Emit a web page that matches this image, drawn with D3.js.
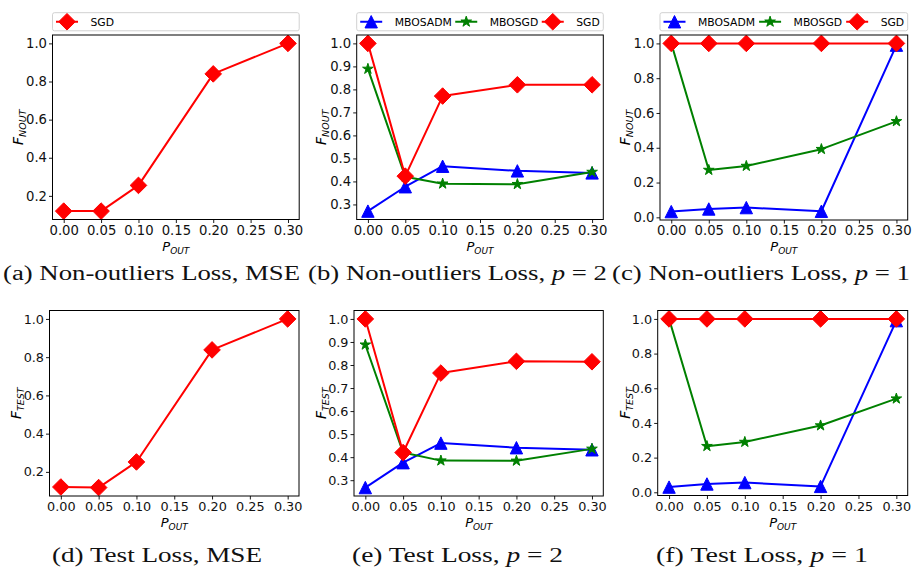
<!DOCTYPE html>
<html><head><meta charset="utf-8">
<script src="https://cdn.jsdelivr.net/npm/d3@7"></script>
<style>body{margin:0;background:#fff}</style></head><body>
<svg id="c" width="913" height="572" xmlns="http://www.w3.org/2000/svg"></svg>
<script>
// ---------- data ----------
const xValues = [0, 0.05, 0.10, 0.20, 0.30];
const xTickValues = [0, 0.05, 0.10, 0.15, 0.20, 0.25, 0.30];
const seriesNames = ["MBOSADM", "MBOSGD", "SGD"];

const noutMseSGD    = [0.120, 0.120, 0.255, 0.840, 1.000];
const noutP2MBOSADM = [0.271, 0.377, 0.466, 0.446, 0.437];
const noutP2MBOSGD  = [0.889, 0.420, 0.390, 0.388, 0.441];
const noutP2SGD     = [1.000, 0.423, 0.771, 0.820, 0.820];
const noutP1MBOSADM = [0.033, 0.048, 0.056, 0.035, 0.990];
const noutP1MBOSGD  = [1.000, 0.272, 0.295, 0.392, 0.552];
const noutP1SGD     = [1.000, 1.000, 1.000, 1.000, 1.000];

const testMseSGD    = [0.121, 0.118, 0.252, 0.838, 1.000];
const testP2MBOSADM = [0.268, 0.376, 0.461, 0.441, 0.432];
const testP2MBOSGD  = [0.888, 0.420, 0.385, 0.384, 0.436];
const testP2SGD     = [1.000, 0.420, 0.765, 0.816, 0.814];
const testP1MBOSADM = [0.030, 0.048, 0.056, 0.034, 0.990];
const testP1MBOSGD  = [1.000, 0.266, 0.290, 0.385, 0.540];
const testP1SGD     = [1.000, 1.000, 1.000, 1.000, 1.000];

const yTicksMse = [0.2, 0.4, 0.6, 0.8, 1.0];
const yTicksP2  = [0.3, 0.4, 0.5, 0.6, 0.7, 0.8, 0.9, 1.0];
const yTicksP1  = [0.0, 0.2, 0.4, 0.6, 0.8, 1.0];

const captionA = ["(a) Non-outliers Loss, MSE", "", ""];
const captionB = ["(b) Non-outliers Loss, ", "p", " = 2"];
const captionC = ["(c) Non-outliers Loss, ", "p", " = 1"];
const captionD = ["(d) Test Loss, MSE", "", ""];
const captionE = ["(e) Test Loss, ", "p", " = 2"];
const captionF = ["(f) Test Loss, ", "p", " = 1"];

// ---------- styles ----------
const style = {
  MBOSADM: {color: "#0000ff", marker: "tri"},
  MBOSGD:  {color: "#008000", marker: "star"},
  SGD:     {color: "#ff0000", marker: "diamond"}
};

function markerPath(kind) {
  if (kind === "diamond") { const h = 8.3; return `M0,${-h}L${h},0L0,${h}L${-h},0Z`; }
  if (kind === "tri") { const h = 6.2; return `M0,${-h}L${h},${h}L${-h},${h}Z`; }
  const R = 5.6, r = R * 0.381966; let p = "";
  for (let i = 0; i < 10; i++) {
    const rad = i % 2 === 0 ? R : r;
    const a = -Math.PI / 2 + i * Math.PI / 5;
    p += (i ? "L" : "M") + (rad * Math.cos(a)).toFixed(2) + "," + (rad * Math.sin(a)).toFixed(2);
  }
  return p + "Z";
}

const panels = [
  {box: [52.5, 35, 299.2, 219.5], series: [["SGD", noutMseSGD]], yTicks: yTicksMse, yLabel: "NOUT", legend: true, cap: captionA, capBox: [3, 300], capY: 280, xLabY: 251, yLabOff: 30, tf: 13.2},
  {box: [356.7, 35, 603.3, 219.5], series: [["MBOSADM", noutP2MBOSADM], ["MBOSGD", noutP2MBOSGD], ["SGD", noutP2SGD]], yTicks: yTicksP2, yLabel: "NOUT", legend: true, cap: captionB, capBox: [308, 607], capY: 280, xLabY: 251, yLabOff: 31, tf: 13.2},
  {box: [660, 35, 907.7, 220], series: [["MBOSADM", noutP1MBOSADM], ["MBOSGD", noutP1MBOSGD], ["SGD", noutP1SGD]], yTicks: yTicksP1, yLabel: "NOUT", legend: true, cap: captionC, capBox: [612, 910], capY: 280, xLabY: 251, yLabOff: 30, tf: 13.2},
  {box: [49.5, 310.5, 299, 496], series: [["SGD", testMseSGD]], yTicks: yTicksMse, yLabel: "TEST", legend: false, cap: captionD, capBox: [52, 262], capY: 562, xLabY: 527, yLabOff: 29, tf: 12.8},
  {box: [354, 310.5, 603.3, 496], series: [["MBOSADM", testP2MBOSADM], ["MBOSGD", testP2MBOSGD], ["SGD", testP2SGD]], yTicks: yTicksP2, yLabel: "TEST", legend: false, cap: captionE, capBox: [352, 563], capY: 562, xLabY: 527, yLabOff: 28, tf: 12.8},
  {box: [657.7, 310.5, 907.7, 495.5], series: [["MBOSADM", testP1MBOSADM], ["MBOSGD", testP1MBOSGD], ["SGD", testP1SGD]], yTicks: yTicksP1, yLabel: "TEST", legend: false, cap: captionF, capBox: [656, 868], capY: 562, xLabY: 527, yLabOff: 28, tf: 12.8}
];

const svg = d3.select("#c");
const FONT = "'DejaVu Sans', sans-serif";

panels.forEach(p => {
  const [x0, y0, x1, y1] = p.box;
  const xs = d3.scaleLinear().domain([-0.015, 0.315]).range([x0, x1]);
  const all = p.series.flatMap(s => s[1]);
  const lo = d3.min(all), hi = d3.max(all), m = (hi - lo) * 0.05;
  const ys = d3.scaleLinear().domain([lo - m, hi + m]).range([y1, y0]);
  const g = svg.append("g");

  const xa = g.append("g").attr("transform", `translate(0,${y1})`)
    .call(d3.axisBottom(xs).tickValues(xTickValues).tickFormat(d3.format(".2f")).tickSize(3.5).tickPadding(2.5));
  const ya = g.append("g").attr("transform", `translate(${x0},0)`)
    .call(d3.axisLeft(ys).tickValues(p.yTicks).tickFormat(d3.format(".1f")).tickSize(3.5).tickPadding(2));
  [xa, ya].forEach(a => {
    a.attr("font-family", FONT).attr("font-size", p.tf);
    a.select(".domain").remove();
    a.selectAll("line").attr("stroke", "#000").attr("stroke-width", 0.9);
    a.selectAll("text").style("font-family", FONT).style("font-size", p.tf + "px").attr("fill", "#111");
  });

  p.series.forEach(([name, vals]) => {
    const st = style[name];
    const pts = vals.map((v, i) => [xs(xValues[i]), ys(v)]);
    g.append("path").attr("d", d3.line()(pts)).attr("fill", "none")
      .attr("stroke", st.color).attr("stroke-width", 2).attr("stroke-linejoin", "round");
    g.selectAll(null).data(pts).enter().append("path")
      .attr("d", markerPath(st.marker)).attr("transform", d => `translate(${d[0]},${d[1]})`)
      .attr("fill", st.color).attr("stroke", st.color).attr("stroke-width", 1).attr("stroke-linejoin", "miter");
  });

  g.append("rect").attr("x", x0).attr("y", y0).attr("width", x1 - x0).attr("height", y1 - y0)
    .attr("fill", "none").attr("stroke", "#000").attr("stroke-width", 1);

  const xl = g.append("text").attr("x", (x0 + x1) / 2).attr("y", p.xLabY).attr("text-anchor", "middle")
    .style("font-family", FONT).attr("font-style", "italic");
  xl.append("tspan").attr("font-size", 13).text("P");
  xl.append("tspan").attr("font-size", 9).attr("dy", 3).text("OUT");

  const cy = (y0 + y1) / 2, lx = x0 - p.yLabOff;
  const yl = g.append("text").attr("transform", `translate(${lx},${cy}) rotate(-90)`).attr("text-anchor", "middle")
    .style("font-family", FONT).attr("font-style", "italic");
  yl.append("tspan").attr("font-size", 14).text("F");
  yl.append("tspan").attr("font-size", 9.5).attr("dy", 3).text(p.yLabel);

  if (p.legend) {
    const ly0 = 12.7, ly1 = 30.8, lmid = (ly0 + ly1) / 2;
    g.append("rect").attr("x", x0).attr("y", ly0).attr("width", x1 - x0).attr("height", ly1 - ly0)
      .attr("rx", 2).attr("fill", "#fff").attr("stroke", "#cccccc").attr("stroke-width", 0.9);
    const names = p.series.map(s => s[0]);
    const handleW = 22, gapHT = 12.5, pad = 3.5;
    const items = names.map(n => {
      const t = g.append("text").style("font-family", FONT).attr("font-size", 10.8).attr("fill", "#000")
        .attr("y", lmid + 3.9).text(n);
      return {n, t, w: t.node().getComputedTextLength()};
    });
    const total = d3.sum(items, d => handleW + gapHT + d.w);
    const gap = items.length > 1 ? ((x1 - x0) - 2 * pad - total) / (items.length - 1) : 0;
    let cx = x0 + pad;
    items.forEach(it => {
      const st = style[it.n];
      g.append("line").attr("x1", cx).attr("x2", cx + handleW).attr("y1", lmid).attr("y2", lmid)
        .attr("stroke", st.color).attr("stroke-width", 2);
      g.append("path").attr("d", markerPath(st.marker)).attr("transform", `translate(${cx + handleW / 2},${lmid})`)
        .attr("fill", st.color).attr("stroke", st.color).attr("stroke-width", 1);
      it.t.attr("x", cx + handleW + gapHT).raise();
      cx += handleW + gapHT + it.w + gap;
    });
  }

  const [cx0, cx1] = p.capBox;
  const ct = svg.append("text").attr("x", cx0).attr("y", p.capY)
    .style("font-family", "'Liberation Serif', 'DejaVu Serif', serif").attr("font-size", 20).attr("fill", "#111")
    .attr("textLength", cx1 - cx0).attr("lengthAdjust", "spacingAndGlyphs");
  ct.append("tspan").text(p.cap[0]);
  if (p.cap[1]) {
    ct.append("tspan").attr("font-style", "italic").text(p.cap[1]);
    ct.append("tspan").text(p.cap[2]);
  }
});
</script>
</body></html>
